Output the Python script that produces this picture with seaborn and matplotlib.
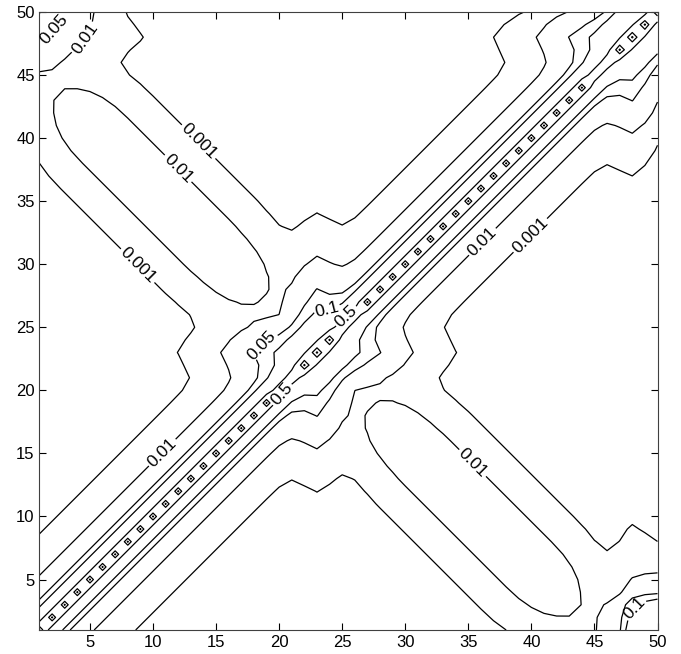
import numpy as np
import pandas as pd
import matplotlib
matplotlib.use("Agg")
import matplotlib.pyplot as plt
import seaborn as sns

# ---- values ----------------------------------------------------------------
sites = np.arange(1, 51)
levels = [0.001, 0.01, 0.05, 0.1, 0.5, 0.8, 0.97]
label_levels = [0.001, 0.01, 0.05, 0.1, 0.5]

# value on the diagonal (site occupation); circles are missing at 20,21,25,26,45,46
diag_occupation = [1.0] * 19 + [0.72, 0.72] + [1.0] * 3 + [0.72, 0.72] + \
                  [1.0] * 18 + [0.72, 0.72] + [1.0] * 4

# decay away from the diagonal, index = |i - j|
band_decay = [1.0, 0.27, 0.065, 0.03, 0.012, 0.006, 0.003, 0.0015, 0.0007,
              0.0003, 0.0001]

# anti-diagonal ridge (i + j = 46): strength along it, index = |i - j|
ridge_sum = 46
ridge_along = [0, 0, 0, 0, 0.0005, 0.001, 0.002, 0.004, 0.007, 0.011,
               0.015, 0.019, 0.022, 0.025, 0.027, 0.028, 0.029, 0.03, 0.03, 0.03,
               0.03, 0.03, 0.03, 0.03, 0.03, 0.03, 0.03, 0.03, 0.03, 0.03,
               0.03, 0.03, 0.03, 0.03, 0.03, 0.029, 0.028, 0.025, 0.021, 0.017,
               0.013, 0.01, 0.007, 0.005, 0.0035, 0.0025, 0.0018, 0.0012, 0.001,
               0.0008]
# ... and across it, index = |i + j - 46|
ridge_across = [1.0, 0.9, 0.7, 0.45, 0.25, 0.13, 0.07, 0.04, 0.02, 0.009,
                0.004, 0.002]

# cross-shaped arms around sites 23 and 48
defect_sites = [23, 48]
arm_decay = [0.12, 0.12, 0.11, 0.085, 0.06, 0.045, 0.025, 0.013, 0.0065,
             0.0035, 0.0018, 0.001, 0.0005, 0.0002]
arm_width = [1.0, 0.6, 0.2, 0.03, 0.008, 0.002]
# weak arm of site 48 reaching the chain end (index = distance from site 1)
end_arm = [0.01, 0.008, 0.006, 0.0045, 0.0032, 0.0024, 0.0018, 0.0013, 0.001,
           0.0006, 0.0003]

# corner blobs at (1, 50) and (50, 1)
corner_top_left = 0.1
corner_top_left_decay = [1.0, 0.75, 0.42, 0.23, 0.12, 0.04, 0.015, 0.006,
                         0.002]
corner_bottom_right = 0.3
corner_bottom_right_decay = [1.0, 0.8, 0.5, 0.12, 0.05, 0.015, 0.005,
                             0.0025, 0.001, 0.0005]

label_spots = [(2.6, 48.3), (5.0, 47.5), (13.8, 39.9), (11.9, 37.5),
               (8.7, 29.8), (23.8, 26.9), (25.3, 25.9), (20.1, 19.8),
               (18.3, 24.0), (10.8, 15.0), (36.2, 31.7), (39.7, 32.5),
               (35.4, 14.3), (48.8, 2.0)]


def padded(vals, n=64):
    out = np.zeros(n)
    out[:len(vals)] = vals
    return out


X, Y = np.meshgrid(sites, sites)
d = np.abs(X - Y)
s = np.abs(X + Y - ridge_sum)

Z = padded(band_decay)[d]
Z = Z + padded(ridge_along)[d] * padded(ridge_across)[s]
for c in defect_sites:
    Z = Z + padded(arm_width)[np.abs(X - c)] * padded(arm_decay)[np.abs(Y - c)]
    Z = Z + padded(arm_width)[np.abs(Y - c)] * padded(arm_decay)[np.abs(X - c)]
Z = Z + padded(arm_width)[np.abs(Y - 48)] * padded(end_arm)[X - 1]
Z = Z + padded(arm_width)[np.abs(X - 48)] * padded(end_arm)[Y - 1]
Z = Z + corner_top_left * padded(corner_top_left_decay)[X - 1] * \
    padded(corner_top_left_decay)[50 - Y]
Z = Z + corner_bottom_right * padded(corner_bottom_right_decay)[50 - X] * \
    padded(corner_bottom_right_decay)[Y - 1]
np.fill_diagonal(Z, diag_occupation)

df = pd.DataFrame(Z, index=sites, columns=sites)

# ---- plot -------------------------------------------------------------------
sns.set_style("ticks")
plt.rcParams["font.family"] = ["Liberation Sans", "DejaVu Sans"]

fig = plt.figure(figsize=(6.81, 6.54), dpi=100)
ax = fig.add_axes([0.058, 0.0367, 0.9075, 0.945])

cs = ax.contour(df.columns, df.index, df.values, levels=levels,
                colors="black", linewidths=0.9)
ax.clabel(cs, levels=label_levels, manual=label_spots, inline=True,
          fmt="%g", fontsize=12.5, inline_spacing=2)

ax.set_xlim(1, 50)
ax.set_ylim(1, 50)
ax.set_xticks(range(5, 51, 5))
ax.set_yticks(range(5, 51, 5))
ax.tick_params(direction="in", top=True, right=True, length=5,
               labelsize=12, colors="black", width=0.8)
for sp in ax.spines.values():
    sp.set_visible(True)
    sp.set_color("#404040")
    sp.set_linewidth(0.8)

fig.savefig("out.png", dpi=100)
plt.close()
